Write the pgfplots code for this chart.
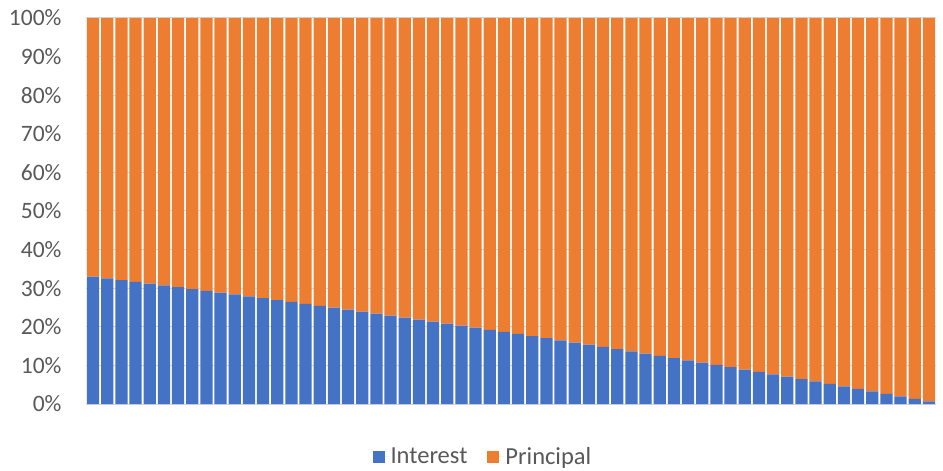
\documentclass[border=0pt]{standalone}
\usepackage{pgfplots}
\pgfplotsset{compat=1.18}
\usepackage{pgfplotstable}
\usepackage{fontspec}
\setmainfont{Carlito}
\definecolor{cblue}{HTML}{4472C4}
\definecolor{corange}{HTML}{ED7D31}
\definecolor{ctext}{HTML}{595959}
\definecolor{cgrid}{HTML}{D9D9D9}
\pgfplotstableread{
x int pri
1 33.00 67.00
2 32.55 67.45
3 32.10 67.90
4 31.64 68.36
5 31.19 68.81
6 30.73 69.27
7 30.26 69.74
8 29.79 70.21
9 29.32 70.68
10 28.85 71.15
11 28.37 71.63
12 27.89 72.11
13 27.41 72.59
14 26.92 73.08
15 26.44 73.56
16 25.94 74.06
17 25.45 74.55
18 24.95 75.05
19 24.44 75.56
20 23.94 76.06
21 23.43 76.57
22 22.92 77.08
23 22.40 77.60
24 21.88 78.12
25 21.36 78.64
26 20.83 79.17
27 20.30 79.70
28 19.77 80.23
29 19.23 80.77
30 18.69 81.31
31 18.14 81.86
32 17.59 82.41
33 17.04 82.96
34 16.49 83.51
35 15.93 84.07
36 15.37 84.63
37 14.80 85.20
38 14.23 85.77
39 13.66 86.34
40 13.08 86.92
41 12.50 87.50
42 11.91 88.09
43 11.32 88.68
44 10.73 89.27
45 10.13 89.87
46 9.53 90.47
47 8.92 91.08
48 8.31 91.69
49 7.70 92.30
50 7.08 92.92
51 6.46 93.54
52 5.83 94.17
53 5.20 94.80
54 4.56 95.44
55 3.93 96.07
56 3.28 96.72
57 2.63 97.37
58 1.98 98.02
59 1.33 98.67
60 0.67 99.33
}\loandata
\begin{document}
\begin{tikzpicture}
\begin{axis}[
  scale only axis,
  width=850pt, height=386pt,
  ybar stacked,
  bar width=0.87,
  xmin=0.5, xmax=60.5,
  ymin=0, ymax=100,
  xtick=\empty,
  ytick={0,10,...,100},
  yticklabel={\pgfmathprintnumber[assume math mode=true]{\tick}\%},
  yticklabel style={font=\fontsize{23.5}{27}\selectfont, text=ctext, xshift=-21pt},
  major tick length=0pt,
  axis line style={draw=none},
  ymajorgrids,
  grid style={cgrid, line width=1pt},
  legend style={at={(0.467,-0.137)}, anchor=center, draw=none, fill=none,
    font=\fontsize{24.5}{28}\selectfont, text=ctext, legend columns=2,
    /tikz/every even column/.append style={column sep=18pt}},
  legend image code/.code={\fill[#1] (0pt,-6pt) rectangle (12pt,6pt); \path (0pt,0pt) -- (16pt,0pt);},
]
\addplot[fill=cblue, draw=none] table[x=x, y=int] {\loandata};
\addplot[fill=corange, draw=none] table[x=x, y=pri] {\loandata};
\legend{Interest, Principal}
\end{axis}
\path (current axis.south west) ++(-86pt,-65pt) rectangle ++(943pt,469pt);
\end{tikzpicture}
\end{document}
